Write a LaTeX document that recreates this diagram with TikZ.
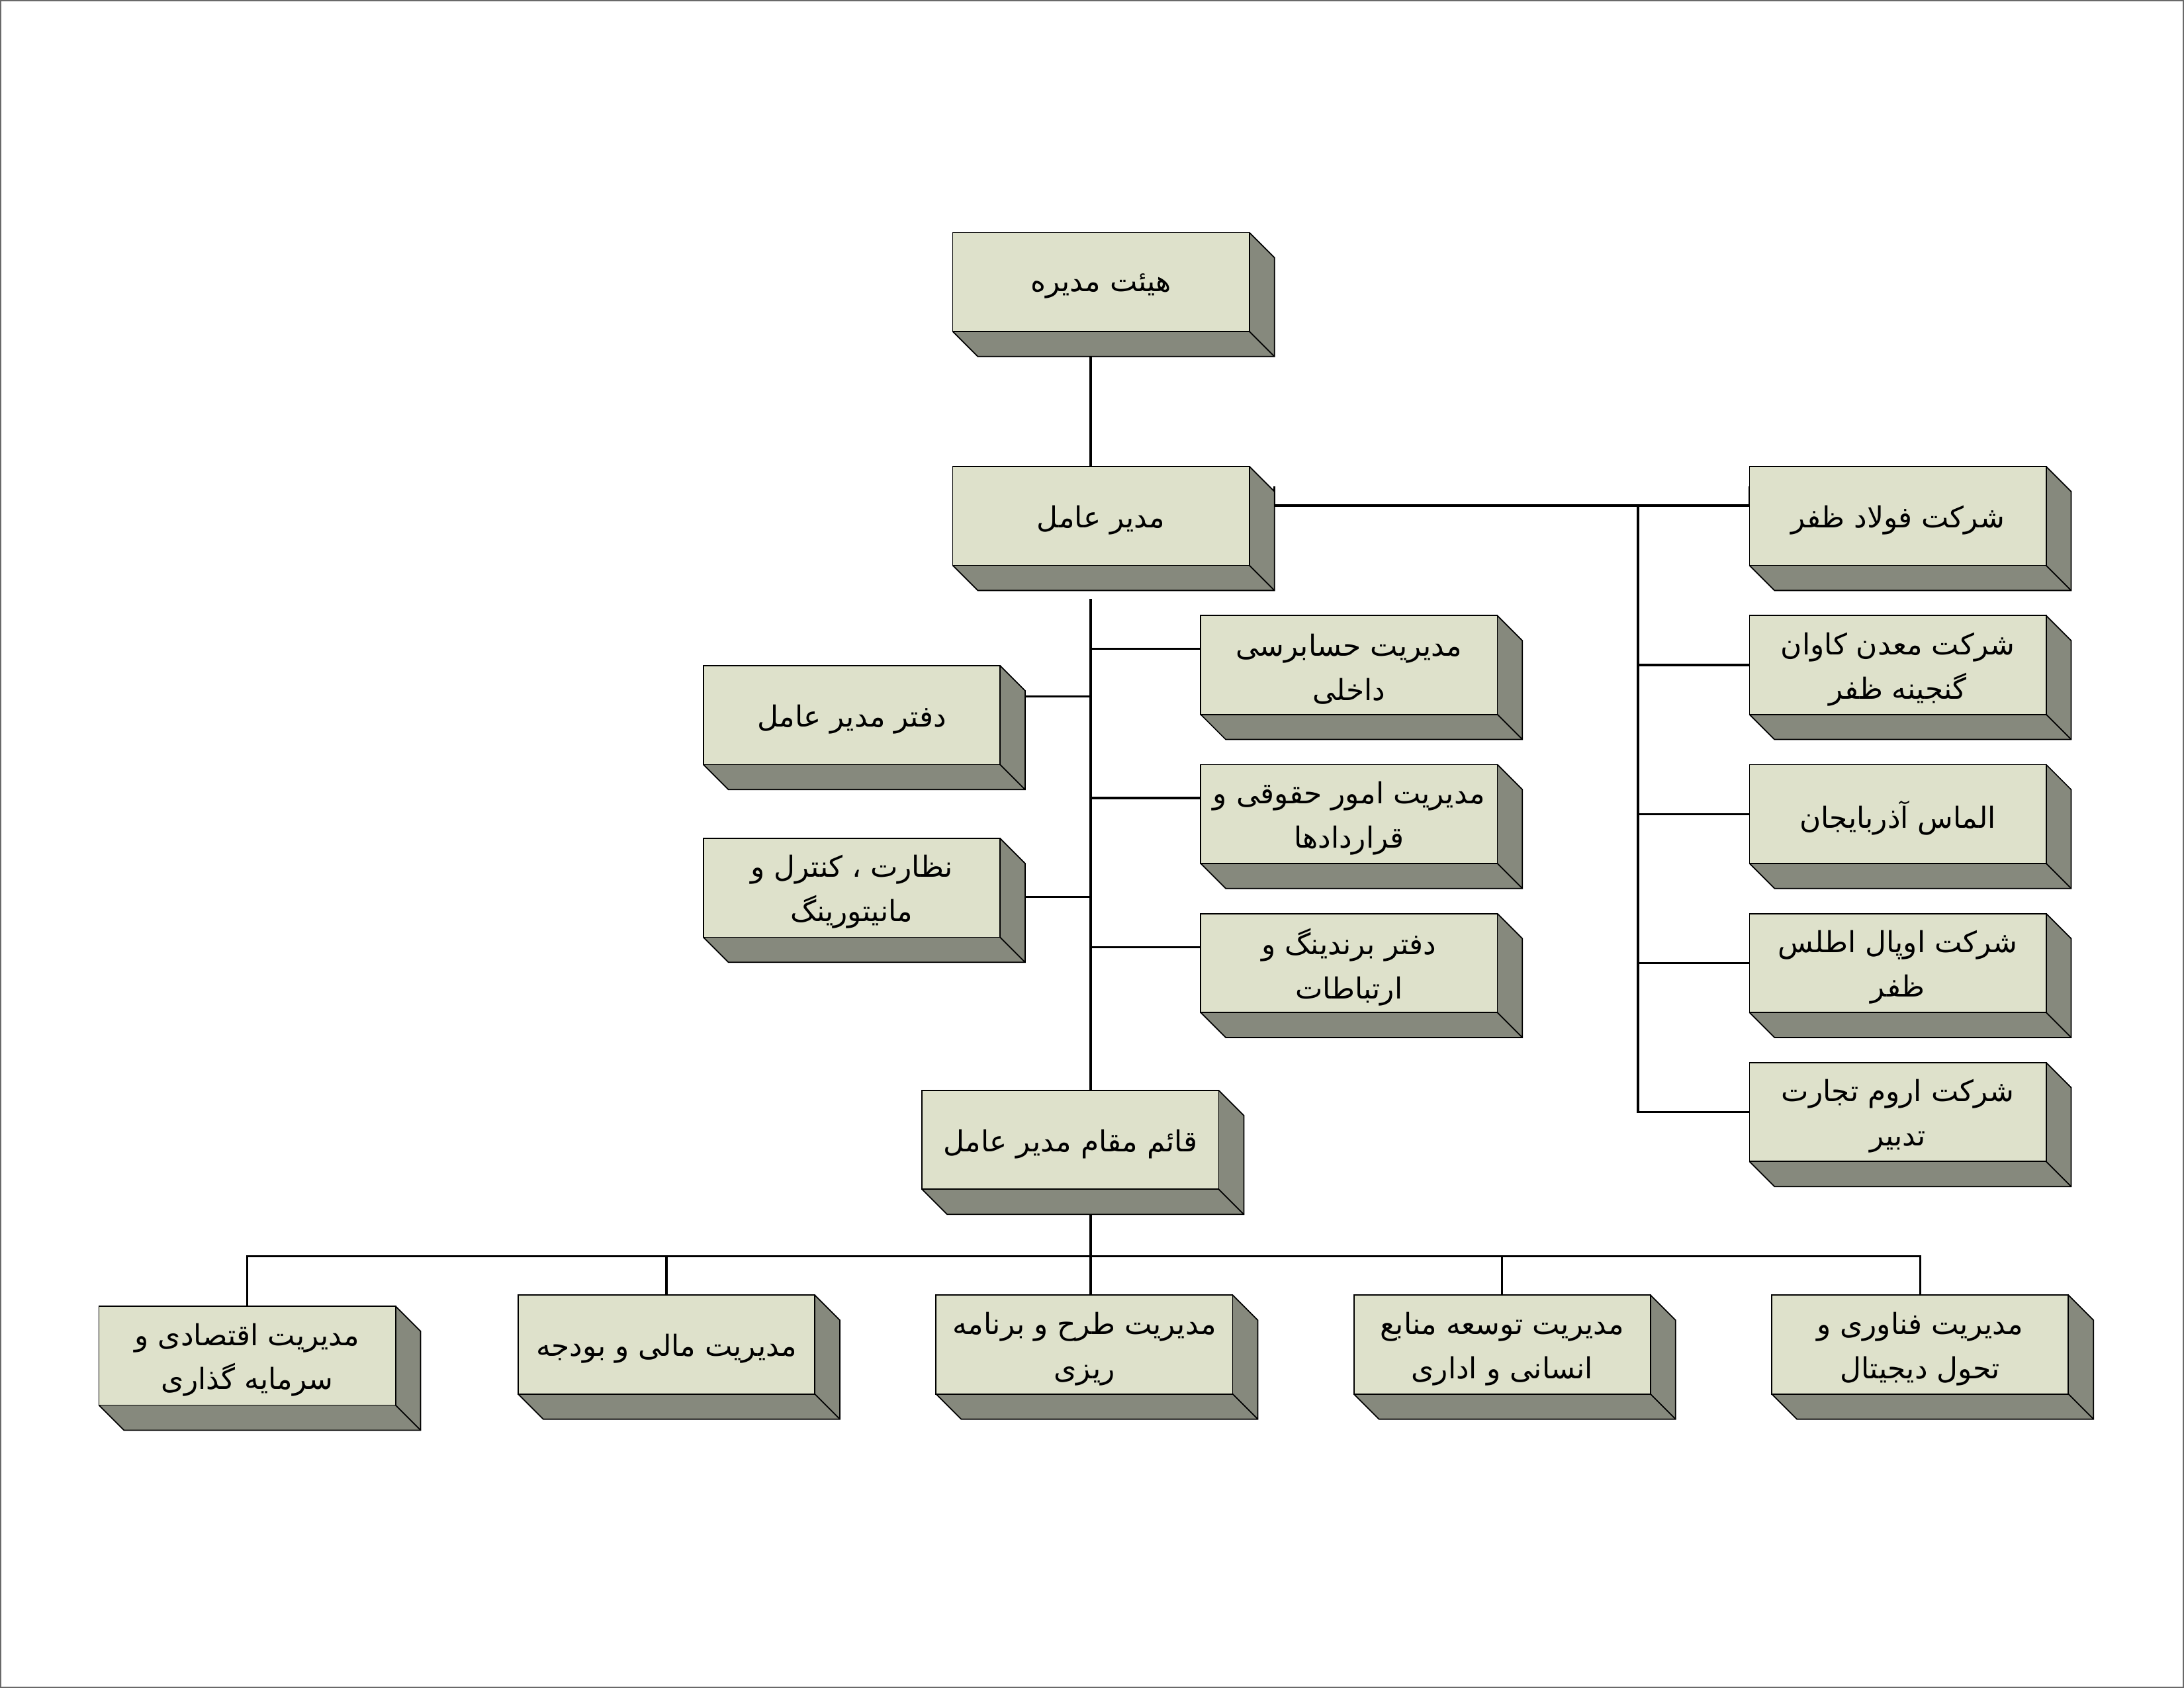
\documentclass[tikz,border=0pt]{standalone}
\usepackage{fontspec}
\TeXXeTstate=1
\newfontfamily\arfont[Script=Arabic]{DejaVu Sans}
\usetikzlibrary{calc}
\pgfdeclarelayer{bg}
\pgfsetlayers{bg,main}
\definecolor{frontc}{RGB}{222,225,203}
\definecolor{sidec}{RGB}{134,137,125}
\definecolor{framec}{RGB}{105,105,105}
\newcommand\pxu{0.021046cm}
\newcommand\rl[1]{\beginR #1\endR}
% name, x, y (top-left of front face), text
\newcommand\slab[4]{%
  \fill[sidec] (#2+213,#3) -- ++(18,18) -- ++(0,71) -- ++(-213,0) -- ++(-18,-18) -- cycle;
  \draw[boxline] (#2+213,#3) -- ++(18,18) -- ++(0,71) -- ++(-213,0) -- ++(-18,-18);
  \draw[boxline] (#2+213,#3+71) -- ++(18,18);
  \node[front, anchor=north west] (#1) at (#2,#3) {};
  \node[lbl] (#1t) at ($(#1.center)+(0,3)$) {#4};
}
\begin{document}
\begin{tikzpicture}[x=0.021046cm,y=-0.021046cm,
  boxline/.style={draw=black, line width=0.5pt, line join=miter},
  front/.style={draw=black, line width=0.5pt, fill=frontc,
    minimum width=213*\pxu, minimum height=71*\pxu,
    inner sep=0pt, outer sep=0pt},
  lbl/.style={inner sep=0pt, align=center,
    font=\arfont\fontsize{12.5}{19}\selectfont},
  conn/.style={draw=black, line width=0.9pt}]
\useasboundingbox (0,0) rectangle (1568,1212);
\draw[framec, line width=0.6pt] (0.5,0.5) rectangle (1567.5,1211.5);

\slab{board}{684}{167}{\rl{هیئت مدیره}}
\slab{ceo}{684}{335}{\rl{مدیر عامل}}
\slab{fulad}{1256}{335}{\rl{شرکت فولاد ظفر}}
\slab{kavan}{1256}{442}{\rl{شرکت معدن کاوان}\\\rl{گنجینه  ظفر}}
\slab{almas}{1256}{549}{\rl{الماس آذربایجان}}
\slab{opal}{1256}{656}{\rl{شرکت اوپال اطلس}\\\rl{ظفر}}
\slab{orum}{1256}{763}{\rl{شرکت اروم تجارت}\\\rl{تدبیر}}
\slab{audit}{862}{442}{\rl{مدیریت حسابرسی}\\\rl{داخلی}}
\slab{legal}{862}{549}{\rl{مدیریت امور حقوقی و}\\\rl{قراردادها}}
\slab{brand}{862}{656}{\rl{دفتر برندینگ و}\\\rl{ارتباطات}}
\slab{office}{505}{478}{\rl{دفتر مدیر عامل}}
\slab{monitor}{505}{602}{\rl{نظارت ، کنترل و}\\\rl{مانیتورینگ}}
\slab{deputy}{662}{783}{\rl{قائم مقام مدیر عامل}}
\slab{econ}{71}{938}{\rl{مدیریت اقتصادی و}\\\rl{سرمایه گذاری}}
\slab{fin}{372}{930}{\rl{مدیریت مالی و بودجه}}
\slab{plan}{672}{930}{\rl{مدیریت طرح و برنامه}\\\rl{ریزی}}
\slab{hrm}{972}{930}{\rl{مدیریت توسعه منابع}\\\rl{انسانی و اداری}}
\slab{itd}{1272}{930}{\rl{مدیریت فناوری و}\\\rl{تحول دیجیتال}}

\coordinate (sp) at (783,0);
\coordinate (rs) at (1176,0);
\coordinate (bus) at (0,902);
\coordinate (hr1) at ($(ceo.north east)+(18,28)$);

\begin{pgfonlayer}{bg}
  % top spine
  \draw[conn] (board.south -| sp) -- (ceo.north -| sp);
  \draw[conn] ($(ceo.south -| sp)+(0,24)$) -- (deputy.north -| sp);
  % side branches of CEO
  \draw[conn] ($(audit.north west)+(0,24)$) -- ($(audit.north west -| sp)+(0,24)$);
  \draw[conn] ($(legal.north west)+(0,24)$) -- ($(legal.north west -| sp)+(0,24)$);
  \draw[conn] ($(brand.north west)+(0,24)$) -- ($(brand.north west -| sp)+(0,24)$);
  \draw[conn] ($(office.north east)+(18,22)$) -- ($(office.north east -| sp)+(0,22)$);
  \draw[conn] ($(monitor.north east)+(18,42)$) -- ($(monitor.north east -| sp)+(0,42)$);
  % companies
  \draw[conn] ($(hr1)+(0,-14)$) -- (hr1) -- (hr1 -| fulad.west) -- ++(0,-14);
  \draw[conn] (hr1 -| rs) |- (orum.west);
  \draw[conn] (kavan.west) -- (kavan.west -| rs);
  \draw[conn] (almas.west) -- (almas.west -| rs);
  \draw[conn] (opal.west) -- (opal.west -| rs);
  % deputy to departments
  \draw[conn] (deputy.south -| sp) -- (bus -| sp);
  \draw[conn] (econ.north) |- (bus -| itd.north) -- (itd.north);
  \draw[conn] (bus -| fin.north) -- (fin.north);
  \draw[conn] (bus -| sp) -- (plan.north -| sp);
  \draw[conn] (bus -| hrm.north) -- (hrm.north);
\end{pgfonlayer}
\end{tikzpicture}
\end{document}
